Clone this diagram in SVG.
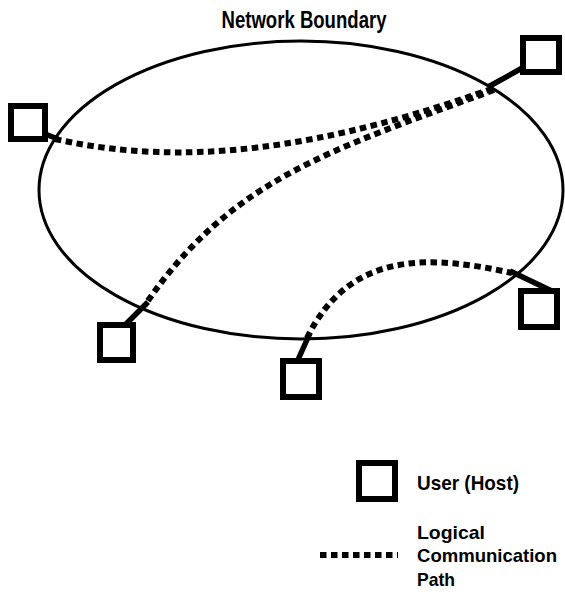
<svg xmlns="http://www.w3.org/2000/svg" width="565" height="596" viewBox="0 0 565 596">
<style>
.host{fill:#fff;stroke:#000;stroke-width:6}
.link{stroke:#000;stroke-width:5.5;stroke-linecap:butt;fill:none}
.path{stroke:#000;stroke-width:6;stroke-dasharray:6.5 4.5;fill:none}
.bound{stroke:#000;stroke-width:3;fill:none}
text{font-family:"Liberation Sans Narrow","Liberation Sans",Arial,sans-serif;font-weight:bold;fill:#000}
.lg{font-size:19px}
</style>
<rect width="565" height="596" fill="#fff"/>
<g id="boundary">
<ellipse class="bound" cx="301" cy="190" rx="262" ry="149"/>
<text x="304" y="28" font-size="24" text-anchor="middle" textLength="165" lengthAdjust="spacingAndGlyphs">Network Boundary</text>
</g>
<g id="connectors">
<path class="path" d="M55,139 C150,160 280,165 494,88"/>
<path class="path" d="M494,90 C330,150 230,180 145,305"/>
<path class="path" d="M307,338 C350,250 430,255 512,273"/>
<line class="link" x1="45" y1="134" x2="58" y2="139"/>
<line class="link" x1="524" y1="67" x2="488" y2="87"/>
<line class="link" x1="126" y1="324" x2="148" y2="302"/>
<line class="link" x1="297" y1="362" x2="310" y2="333"/>
<line class="link" x1="556" y1="293" x2="510" y2="271"/>
</g>
<g id="host-left"><rect class="host" x="11" y="106" width="34" height="33"/></g>
<g id="host-topright"><rect class="host" x="523" y="38" width="36" height="34"/></g>
<g id="host-lowerleft"><rect class="host" x="100" y="325" width="33" height="35"/></g>
<g id="host-bottom"><rect class="host" x="283" y="361" width="36" height="36"/></g>
<g id="host-right"><rect class="host" x="521" y="291" width="36" height="36"/></g>
<g id="legend">
<rect class="host" x="359" y="463" width="36" height="36"/>
<text x="417" y="490" font-size="21" textLength="102" lengthAdjust="spacingAndGlyphs">User (Host)</text>
<line class="path" x1="320" y1="555" x2="398" y2="555"/>
<text class="lg" x="417" y="539" textLength="68" lengthAdjust="spacingAndGlyphs">Logical</text>
<text class="lg" x="417" y="562" textLength="140" lengthAdjust="spacingAndGlyphs">Communication</text>
<text class="lg" x="417" y="586" textLength="38" lengthAdjust="spacingAndGlyphs">Path</text>
</g>
</svg>
